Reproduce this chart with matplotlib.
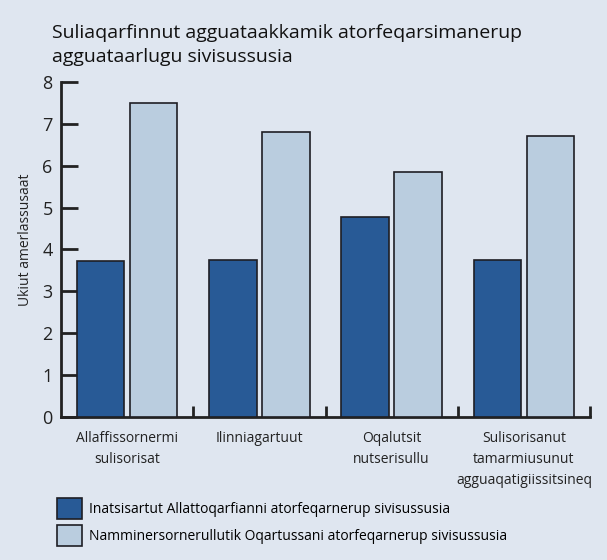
import numpy as np
import matplotlib
matplotlib.use('Agg')
import matplotlib.pyplot as plt
from matplotlib.patches import Patch

plt.rcParams['font.family'] = ['Open Sans', 'DejaVu Sans']

TITLE = 'Suliaqarfinnut agguataakkamik atorfeqarsimanerup\nagguataarlugu sivisussusia'
Y_LABEL = 'Ukiut amerlassusaat'

categories = ['Allaffissornermi\nsulisorisat',
              'Ilinniagartuut',
              'Oqalutsit\nnutserisullu',
              'Sulisorisanut\ntamarmiusunut\nagguaqatigiissitsineq']
series_names = ['Inatsisartut Allattoqarfianni atorfeqarnerup sivisussusia',
                'Namminersornerullutik Oqartussani atorfeqarnerup sivisussusia']
inatsisartut = [3.72, 3.76, 4.77, 3.75]
namminersornerullutik = [7.5, 6.8, 5.84, 6.7]

BG = '#dfe6f0'
DARK = '#285a96'
LIGHT = '#bacddf'
EDGE = '#1e1e24'
AX = '#222222'

fig = plt.figure(figsize=(6.07, 5.6), dpi=100, facecolor=BG)
ax = fig.add_axes([0.1005, 0.2554, 0.8715, 0.5982], facecolor=BG)

x = np.arange(len(categories)) + 0.5
w = 0.36
ax.bar(x - 0.2, inatsisartut, w, color=DARK, edgecolor=EDGE, linewidth=1.2, zorder=3)
ax.bar(x + 0.2, namminersornerullutik, w, color=LIGHT, edgecolor=EDGE, linewidth=1.2, zorder=3)

ax.set_xlim(0, len(categories))
ax.set_ylim(0, 8)

for s in ['top', 'right']:
    ax.spines[s].set_visible(False)
for s in ['left', 'bottom']:
    ax.spines[s].set_linewidth(2)
    ax.spines[s].set_color(AX)

ax.set_yticks(range(0, 9))
ax.tick_params(axis='y', direction='in', length=12, width=2, color=AX,
               labelsize=13, labelcolor='#222222', pad=6)

# category labels at centres, separator ticks at group boundaries
ax.set_xticks(x)
ax.set_xticklabels(categories, fontsize=10, linespacing=1.55)
ax.tick_params(axis='x', length=0, pad=10, labelcolor='#222222')
ax.set_xticks(np.arange(1, len(categories) + 1), minor=True)
ax.tick_params(axis='x', which='minor', direction='in', length=8, width=2, color=AX)

ax.set_ylabel(Y_LABEL, fontsize=10, color='#222222')
ax.yaxis.set_label_coords(-0.052, 0.53)

fig.text(0.086, 0.957, TITLE, fontsize=14, ha='left', va='top', linespacing=1.4, color='#111111')

handles = [Patch(facecolor=DARK, edgecolor=EDGE, linewidth=1.2),
           Patch(facecolor=LIGHT, edgecolor=EDGE, linewidth=1.2)]
fig.legend(handles, series_names, loc='upper left', bbox_to_anchor=(0.094, 0.11),
           frameon=False, fontsize=10, handlelength=1.8, handleheight=1.9,
           handletextpad=0.5, labelspacing=0.45, borderaxespad=0, borderpad=0)

fig.savefig('out.png', dpi=100, facecolor=BG)
